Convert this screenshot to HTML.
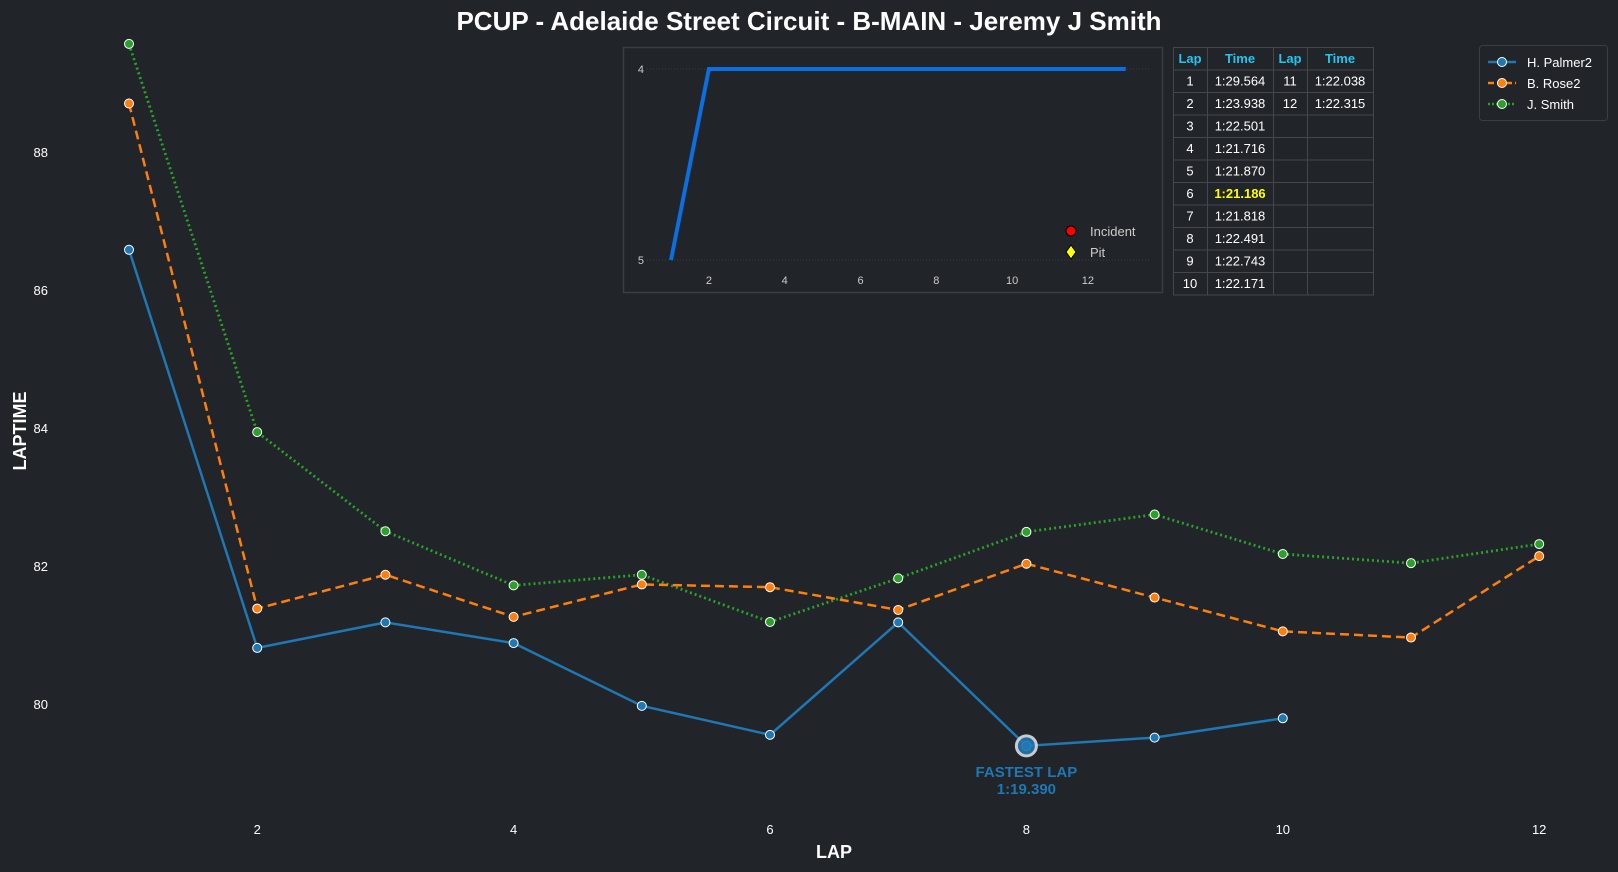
<!DOCTYPE html>
<html><head><meta charset="utf-8"><style>
html,body{margin:0;padding:0;background:#212428;}
svg{display:block;font-family:"Liberation Sans",sans-serif;}
</style></head><body>
<svg id="c" width="1618" height="872" viewBox="0 0 1618 872">
<rect width="1618" height="872" fill="#212428"/>
<text x="809" y="30" text-anchor="middle" fill="#fff" font-size="26" font-weight="bold">PCUP - Adelaide Street Circuit - B-MAIN - Jeremy J Smith</text>
<text x="834" y="858" text-anchor="middle" fill="#fff" font-size="18" font-weight="bold">LAP</text>
<text transform="translate(26,431) rotate(-90)" text-anchor="middle" fill="#fff" font-size="18" font-weight="bold">LAPTIME</text>
<g id="main"></g>
<g id="inset"></g>
<g id="table"></g>
<g id="legend"></g>
</svg>
<script>
const laps = [1,2,3,4,5,6,7,8,9,10,11,12];
const palmer = [86.58,80.81,81.18,80.88,79.97,79.55,81.18,79.39,79.51,79.79];
const rose = [88.70,81.38,81.87,81.26,81.73,81.69,81.36,82.03,81.54,81.05,80.96,82.14];
const smith = [89.564,83.938,82.501,81.716,81.870,81.186,81.818,82.491,82.743,82.171,82.038,82.315];
const xTicks = [2,4,6,8,10,12];
const yTicks = [80,82,84,86,88];
const smithTimes = ["1:29.564","1:23.938","1:22.501","1:21.716","1:21.870","1:21.186","1:21.818","1:22.491","1:22.743","1:22.171","1:22.038","1:22.315"];
const positions = [5,4,4,4,4,4,4,4,4,4,4,4,4];
const insetXTicks = [2,4,6,8,10,12];
const insetYTicks = [4,5];
const fastestLapIndex = 7;
const fastestLapLabel = "1:19.390";

const NS="http://www.w3.org/2000/svg";
function mk(tag,attrs,parent){const e=document.createElementNS(NS,tag);for(const k in attrs)e.setAttribute(k,attrs[k]);parent.appendChild(e);return e;}
const X = l => 129 + (l-1)*128.2;
const Y = v => 703.8 - (v-80)*69.0;

const main=document.getElementById('main');
xTicks.forEach(t=>{const e=mk('text',{x:X(t),y:834,'text-anchor':'middle',fill:'#fff','font-size':13},main);e.textContent=t;

});
yTicks.forEach(t=>{const e=mk('text',{x:48,y:Y(t)+5,'text-anchor':'end',fill:'#fff','font-size':13},main);e.textContent=t;

});

function series(vals,color,dash,name,w){
  const g=mk('g',{},main);
  
  
  const pts=vals.map((v,i)=>X(laps[i])+','+Y(v)).join(' ');
  const pl=mk('polyline',{points:pts,fill:'none',stroke:color,'stroke-width':w,'stroke-dasharray':dash},g);
  
  
  vals.forEach((v,i)=>{const c=mk('circle',{cx:X(laps[i]),cy:Y(v),r:4.5,fill:color,stroke:'#fff','stroke-width':1},g);
  
  });
}
series(smith,'#2ca02c','2 3','smith',2.8);
series(rose,'#ff7f0e','9 5','rose',2.5);
series(palmer,'#1f77b4','','palmer',2.5);
const fx=X(laps[fastestLapIndex]),fy=Y(palmer[fastestLapIndex]);
const fc=mk('circle',{cx:fx,cy:fy,r:10,fill:'#1f77b4',stroke:'#ddd','stroke-width':3,opacity:0.9},main);


const ft1=mk('text',{x:fx,y:fy+31,'text-anchor':'middle',fill:'#1f77b4','font-size':15,'font-weight':'bold'},main);ft1.textContent='FASTEST LAP';


const ft2=mk('text',{x:fx,y:fy+48,'text-anchor':'middle',fill:'#1f77b4','font-size':15,'font-weight':'bold'},main);ft2.textContent=fastestLapLabel;



// inset
const ins=document.getElementById('inset');
const ib=mk('rect',{x:623.5,y:47.5,width:539,height:245,fill:'#212428',stroke:'#3a3d42','stroke-width':1.5},ins);


const IX = l => 671 + (l-1)*37.9;
const IY = p => 69 + (p-4)*191;
insetYTicks.forEach(t=>{mk('line',{x1:647,x2:1150,y1:IY(t),y2:IY(t),stroke:'#3a3d42','stroke-dasharray':'1 2'},ins);
const e=mk('text',{x:644,y:IY(t)+4,'text-anchor':'end',fill:'#ccc','font-size':11},ins);e.textContent=t;

});
insetXTicks.forEach(t=>{const e=mk('text',{x:IX(t),y:284,'text-anchor':'middle',fill:'#ccc','font-size':11},ins);e.textContent=t;

});
const ip=mk('polyline',{points:positions.map((p,i)=>IX(i+1)+','+IY(p)).join(' '),fill:'none',stroke:'#0a6fe0','stroke-width':4},ins);


const li=mk('circle',{cx:1071,cy:231,r:5,fill:'#f00',stroke:'#000'},ins);


const lt=mk('text',{x:1090,y:236,fill:'#ccc','font-size':13},ins);lt.textContent='Incident';


const lp=mk('polygon',{points:'1071,245 1076,252 1071,259 1066,252',fill:'#ff0',stroke:'#000'},ins);


const lpt=mk('text',{x:1090,y:257,fill:'#ccc','font-size':13},ins);lpt.textContent='Pit';



// table
const tb=document.getElementById('table');
const cols=[1173,1207,1273,1307,1373];
const ry=i=>47+i*22.5;
for(let r=0;r<11;r++){for(let c=0;c<4;c++){mk('rect',{x:cols[c]+0.5,y:ry(r)+0.5,width:cols[c+1]-cols[c],height:22.5,fill:'none',stroke:'#44474c'},tb);}}
const hdr=['Lap','Time','Lap','Time'];
hdr.forEach((h,c)=>{const e=mk('text',{x:(cols[c]+cols[c+1])/2,y:ry(0)+16,'text-anchor':'middle',fill:'#1ec8f0','font-size':13,'font-weight':'bold'},tb);e.textContent=h;

});
smithTimes.forEach((t,i)=>{const row=i<10?i+1:i-9;const c=i<10?0:2;
const a=mk('text',{x:(cols[c]+cols[c+1])/2,y:ry(row)+16,'text-anchor':'middle',fill:'#fff','font-size':13},tb);a.textContent=laps[i];


const best=i===5;
const b=mk('text',{x:(cols[c+1]+cols[c+2])/2,y:ry(row)+16,'text-anchor':'middle',fill:best?'#ffff00':'#fff','font-size':13,'font-weight':best?'bold':'normal'},tb);b.textContent=t;

});

// legend
const lg=document.getElementById('legend');
const lr=mk('rect',{x:1479.5,y:45.5,width:128,height:75,rx:3,fill:'#212428',stroke:'#3a3d42'},lg);


[['H. Palmer2','#1f77b4',''],['B. Rose2','#ff7f0e','6 3'],['J. Smith','#2ca02c','2 2']].forEach((d,i)=>{
const y=62+i*21;
const g=mk('g',{},lg);


mk('line',{x1:1488,x2:1516,y1:y,y2:y,stroke:d[1],'stroke-width':2.5,'stroke-dasharray':d[2]},g);
mk('circle',{cx:1502,cy:y,r:4.5,fill:d[1],stroke:'#fff'},g);
const t=mk('text',{x:1527,y:y+5,fill:'#fff','font-size':13},g);t.textContent=d[0];});
</script>
</body></html>
